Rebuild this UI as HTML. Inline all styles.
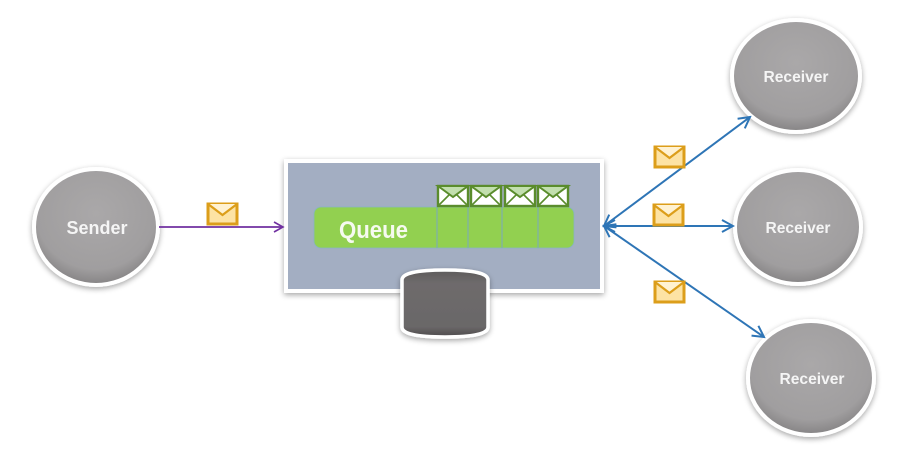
<!DOCTYPE html>
<html><head><meta charset="utf-8"><style>
html,body{margin:0;padding:0;background:#fff;}
svg{display:block;}
</style></head><body>
<svg width="922" height="461" viewBox="0 0 922 461" xmlns="http://www.w3.org/2000/svg">
<defs>
<radialGradient id="gc" cx="50%" cy="38%" r="62%">
<stop offset="0%" stop-color="#aaa8a9"/>
<stop offset="78%" stop-color="#a09e9f"/>
<stop offset="100%" stop-color="#858384"/>
</radialGradient>
<linearGradient id="gcyl" x1="0" y1="0" x2="0" y2="1">
<stop offset="0%" stop-color="#5e5b5c"/>
<stop offset="20%" stop-color="#6e6b6c"/>
<stop offset="85%" stop-color="#6a6768"/>
<stop offset="100%" stop-color="#4e4b4c"/>
</linearGradient>
<filter id="sh" x="-20%" y="-20%" width="140%" height="140%">
<feGaussianBlur in="SourceAlpha" stdDeviation="3"/>
<feOffset dx="0" dy="2"/>
<feComponentTransfer><feFuncA type="linear" slope="0.35"/></feComponentTransfer>
<feMerge><feMergeNode/><feMergeNode in="SourceGraphic"/></feMerge>
</filter>
<marker id="ap" markerWidth="12" markerHeight="12" refX="10" refY="6" orient="auto" markerUnits="userSpaceOnUse">
<path d="M1,1 L10,6 L1,11" fill="none" stroke="#7030a0" stroke-width="1.6"/>
</marker>
<marker id="ab" markerWidth="14" markerHeight="14" refX="12" refY="7" orient="auto-start-reverse" markerUnits="userSpaceOnUse">
<path d="M1,1 L12,7 L1,13" fill="none" stroke="#2e75b6" stroke-width="2"/>
</marker>
<g id="env">
<rect x="0" y="0" width="29" height="20" fill="#fde3a4" stroke="#dc9e1a" stroke-width="3"/>
<path d="M0,0 L14.5,11 L29,0" fill="#fff2d2" stroke="#dc9e1a" stroke-width="2.2"/>
</g>
<g id="genv">
<rect x="0" y="0" width="30" height="20" fill="#ffffff" stroke="#5a8c2c" stroke-width="2.4"/>
<path d="M0,0 L15,11 L30,0 Z" fill="#c2dfae" stroke="#5a8c2c" stroke-width="2"/>
<path d="M0,20 L11,9 M30,20 L19,9" stroke="#5a8c2c" stroke-width="1.6"/>
</g>
</defs>

<!-- Sender -->
<g filter="url(#sh)">
<ellipse cx="96" cy="227" rx="62" ry="58" fill="url(#gc)" stroke="#ffffff" stroke-width="4"/>
</g>
<text x="97" y="234" text-anchor="middle" font-family="Liberation Sans, sans-serif" font-weight="bold" font-size="18" fill="#f5f5f5" textLength="61" lengthAdjust="spacingAndGlyphs">Sender</text>

<!-- Receivers -->
<g filter="url(#sh)">
<ellipse cx="796" cy="76" rx="64" ry="56" fill="url(#gc)" stroke="#ffffff" stroke-width="4"/>
<ellipse cx="798" cy="227" rx="63" ry="57" fill="url(#gc)" stroke="#ffffff" stroke-width="4"/>
<ellipse cx="811" cy="378" rx="63" ry="57" fill="url(#gc)" stroke="#ffffff" stroke-width="4"/>
</g>
<g font-family="Liberation Sans, sans-serif" font-weight="bold" font-size="16" fill="#f5f5f5" text-anchor="middle">
<text x="796" y="82" textLength="65" lengthAdjust="spacingAndGlyphs">Receiver</text>
<text x="798" y="233" textLength="65" lengthAdjust="spacingAndGlyphs">Receiver</text>
<text x="812" y="384" textLength="65" lengthAdjust="spacingAndGlyphs">Receiver</text>
</g>

<!-- Queue box -->
<g filter="url(#sh)">
<rect x="286" y="161" width="316" height="130" fill="#a3aec2" stroke="#ffffff" stroke-width="4"/>
</g>
<rect x="314" y="207" width="260" height="41" rx="7" ry="7" fill="#92d050" stroke="#86b4c4" stroke-width="0.8"/>
<g stroke="#7aa8c0" stroke-width="1">
<line x1="437" y1="207" x2="437" y2="248"/>
<line x1="468" y1="207" x2="468" y2="248"/>
<line x1="502" y1="207" x2="502" y2="248"/>
<line x1="538" y1="207" x2="538" y2="248"/>
</g>
<text x="339" y="238" font-family="Liberation Sans, sans-serif" font-weight="bold" font-size="24" fill="#f6faf0" textLength="69" lengthAdjust="spacingAndGlyphs">Queue</text>
<use href="#genv" x="438" y="186"/>
<use href="#genv" x="471" y="186"/>
<use href="#genv" x="505" y="186"/>
<use href="#genv" x="538" y="186"/>

<!-- Cylinder -->
<g filter="url(#sh)">
<path d="M402,280 Q402,270 445,270 Q488,270 488,280 L488,327 Q488,337 445,337 Q402,337 402,327 Z" fill="url(#gcyl)" stroke="#ffffff" stroke-width="3.5"/>
</g>

<!-- Sender arrow -->
<line x1="159" y1="227" x2="283" y2="227" stroke="#7030a0" stroke-width="1.8" marker-end="url(#ap)"/>
<use href="#env" x="208" y="204"/>

<!-- Receiver arrows -->
<g stroke="#2e75b6" stroke-width="2" fill="none">
<line x1="604" y1="226" x2="750" y2="117" marker-start="url(#ab)" marker-end="url(#ab)"/>
<line x1="604" y1="226" x2="733" y2="226" marker-start="url(#ab)" marker-end="url(#ab)"/>
<line x1="604" y1="226" x2="764" y2="337" marker-start="url(#ab)" marker-end="url(#ab)"/>
</g>
<use href="#env" x="655" y="147"/>
<use href="#env" x="654" y="205"/>
<use href="#env" x="655" y="282"/>
</svg>
</body></html>
